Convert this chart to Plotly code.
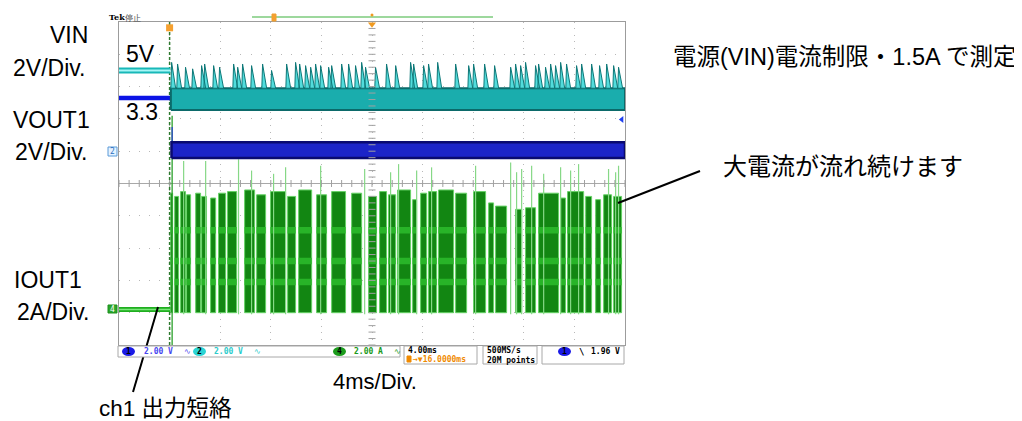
import numpy as np
import plotly.graph_objects as go

# ---------------- data ----------------
# time in ms relative to the short circuit (trigger at t = 0), 4 ms/div
T_START, T_END = -4.0, 36.0
TIME_DIV = 4.0

VIN_BEFORE = 5.0          # V
VOUT_BEFORE = 3.3         # V
IOUT_BEFORE = 0.0         # A

VIN_AFTER_LOW = 2.55      # V, bottom of the ripple band after the short
VIN_AFTER_HIGH = 3.9      # V, top of the ripple band
VIN_SPIKE_T = [0.16, 0.63, 1.26, 1.82, 2.53, 2.77, 3.48, 3.95, 5.06, 5.38, 5.77, 6.48,
               7.35, 8.06, 9.25, 9.96, 10.28, 10.75, 11.15, 11.54, 11.94, 12.57, 12.81,
               13.60, 14.15, 14.70, 15.18, 15.49, 16.28, 17.15, 17.87, 19.05, 19.29,
               20.08, 20.47, 21.19, 22.61, 23.64, 24.03, 24.90, 25.69, 26.96, 27.35,
               27.75, 28.14, 28.93, 29.17, 29.72, 30.12, 30.51, 30.91, 31.38, 32.17,
               32.57, 33.36, 33.99, 34.55, 35.10, 35.49]
VIN_SPIKE_PEAK = [5.5, 5.4, 5.2, 5.1, 5.3, 5.4, 5.3, 5.2, 5.4, 5.2, 5.4, 5.3,
                  5.4, 5.0, 5.4, 5.5, 5.4, 5.3, 5.2, 5.4, 5.3, 5.2, 5.3,
                  5.4, 5.4, 5.3, 5.5, 5.2, 5.2, 5.4, 5.3, 5.5, 5.4,
                  5.3, 5.4, 5.5, 5.4, 5.3, 5.4, 5.4, 5.3, 5.2, 5.4,
                  5.3, 5.5, 5.3, 5.4, 5.2, 5.4, 5.3, 5.5, 5.4, 5.3,
                  5.4, 5.4, 5.3, 5.4, 5.3, 5.2]

VOUT_AFTER_LOW = -0.42    # V
VOUT_AFTER_HIGH = 0.55    # V
VOUT_GLITCH_T = 0.2       # ms
VOUT_GLITCH_PEAK = 1.5    # V

IOUT_BURST_START = [0.08, 0.40, 0.87, 1.34, 2.06, 2.53, 3.24, 3.87, 4.58, 5.93, 6.88, 7.98,
                    9.33, 10.20, 11.62, 12.81, 14.39, 15.73, 16.60, 17.31, 18.02, 19.21,
                    19.84, 20.47, 21.26, 22.61, 24.03, 25.22, 25.77, 27.35, 28.14, 29.17,
                    30.91, 31.46, 32.89, 33.68, 34.31, 35.10]
IOUT_BURST_END = [0.24, 0.71, 1.26, 1.66, 2.45, 2.92, 3.64, 4.43, 5.30, 6.72, 7.59, 9.17,
                  9.96, 11.23, 12.41, 13.91, 15.18, 16.36, 17.15, 17.87, 19.05, 19.53,
                  20.32, 21.11, 22.45, 23.48, 24.98, 25.61, 26.64, 27.83, 28.93, 30.75,
                  31.30, 32.73, 33.36, 34.07, 34.94, 35.73]
IOUT_BURST_TOP = [7.2, 7.0, 7.3, 7.1, 7.2, 7.0, 6.9, 7.2, 7.3, 7.4, 7.1, 7.3,
                  7.0, 7.4, 7.1, 7.3, 7.2, 7.0, 7.3, 7.1, 7.4, 6.8,
                  7.2, 7.3, 7.4, 7.2, 7.3, 6.6, 6.4, 6.2, 6.3, 7.2,
                  6.9, 7.3, 7.0, 6.8, 7.1, 7.0]
IOUT_BURST_BOTTOM = -0.2  # A
IOUT_LEVELS = [1.7, 3.0, 4.9]   # brighter (denser) current levels inside bursts
IOUT_SPIKE_T = [1.11, 2.85, 5.45, 6.48, 8.22, 9.17, 11.94, 15.42, 17.47, 18.10, 19.53,
                20.71, 24.19, 26.96, 27.43, 27.83, 28.62, 29.57, 30.91, 31.70, 32.33,
                34.70, 35.26, 35.49]
IOUT_SPIKE_PEAK = [9.2, 9.2, 9.3, 8.6, 8.4, 8.8, 8.9, 8.7, 8.5, 9.0, 8.6,
                   8.8, 8.9, 9.1, 8.5, 8.7, 8.9, 8.4, 8.8, 8.6, 9.0,
                   8.7, 8.5, 8.9]
IOUT_EDGE_T = 0.2
IOUT_EDGE_MIN, IOUT_EDGE_MAX = -4.3, 12.0

TRIG_LEVEL = 1.96         # V on ch1

# channel settings (scale per div, ground position in divisions)
CH1_SCALE, CH1_POS = 2.0, 1.0    # VOUT1
CH2_SCALE, CH2_POS = 2.0, 1.0    # VIN
CH4_SCALE, CH4_POS = 2.0, -3.9   # IOUT1


def d1(v): return CH1_POS + np.asarray(v, dtype=float) / CH1_SCALE
def d2(v): return CH2_POS + np.asarray(v, dtype=float) / CH2_SCALE
def d4(v): return CH4_POS + np.asarray(v, dtype=float) / CH4_SCALE


# ---------------- layout geometry (pixels of the 1022x421 picture) ----------------
PAGE_MARGIN = 8                      # default body margin of the html page
W, H = 1022 - PAGE_MARGIN, 421 - PAGE_MARGIN
L, R, T, B = 119, 625, 22, 345       # plot area in picture pixels


def PX(x): return (x - L) / (R - L)
def PY(y): return (B - y) / (B - T)


fig = go.Figure()

# ---------- IOUT (green) ----------
bx, by = [], []
for s, e, top in zip(IOUT_BURST_START, IOUT_BURST_END, IOUT_BURST_TOP):
    lo, hi = float(d4(IOUT_BURST_BOTTOM)), float(d4(top))
    bx += [s, s, e, e, s, None]
    by += [lo, hi, hi, lo, lo, None]
fig.add_trace(go.Scatter(x=bx, y=by, mode="lines", fill="toself", fillcolor="#128612",
                         line=dict(color="#66d266", width=1), hoverinfo="skip"))
sx, sy = [], []
for s, e, top in zip(IOUT_BURST_START, IOUT_BURST_END, IOUT_BURST_TOP):
    for lev in IOUT_LEVELS:
        if lev + 0.3 < top:
            lo, hi = float(d4(lev - 0.2)), float(d4(lev + 0.2))
            sx += [s, s, e, e, s, None]
            sy += [lo, hi, hi, lo, lo, None]
fig.add_trace(go.Scatter(x=sx, y=sy, mode="lines", fill="toself", fillcolor="#28b428",
                         line=dict(width=0), hoverinfo="skip"))
spx, spy = [], []
for t, p in zip(IOUT_SPIKE_T, IOUT_SPIKE_PEAK):
    spx += [t, t, None]
    spy += [float(d4(-0.3)), float(d4(p)), None]
fig.add_trace(go.Scatter(x=spx, y=spy, mode="lines", line=dict(color="#86d886", width=1.2),
                         hoverinfo="skip"))
# trigger instant
fig.add_trace(go.Scatter(x=[0, 0], y=[-5, 5], mode="lines",
                         line=dict(color="#2f7a2f", width=1.5, dash="3px,2px"), hoverinfo="skip"))
fig.add_trace(go.Scatter(x=[IOUT_EDGE_T, IOUT_EDGE_T], y=[float(d4(IOUT_EDGE_MIN)), float(d4(IOUT_EDGE_MAX))],
                         mode="lines", line=dict(color="#2aa02a", width=1.3), hoverinfo="skip"))
# before short
fig.add_trace(go.Scatter(x=[T_START, 0.05], y=[float(d4(IOUT_BEFORE))] * 2, mode="lines",
                         line=dict(color="#1fae1f", width=5), hoverinfo="skip"))
fig.add_trace(go.Scatter(x=[T_START, 0.05], y=[float(d4(IOUT_BEFORE))] * 2, mode="lines",
                         line=dict(color="#7be87b", width=1.5), hoverinfo="skip"))

# ---------- VOUT1 (blue) ----------
fig.add_trace(go.Scatter(x=[T_START, 0.1], y=[float(d1(VOUT_BEFORE))] * 2, mode="lines",
                         line=dict(color="#0c14e6", width=4.5), hoverinfo="skip"))
fig.add_trace(go.Scatter(x=[VOUT_GLITCH_T, VOUT_GLITCH_T], y=[float(d1(0)), float(d1(VOUT_GLITCH_PEAK))],
                         mode="lines", line=dict(color="#2a3ad8", width=1.2), hoverinfo="skip"))
vlo, vhi = float(d1(VOUT_AFTER_LOW)), float(d1(VOUT_AFTER_HIGH))
fig.add_trace(go.Scatter(x=[0.15, 0.15, T_END, T_END, 0.15], y=[vlo, vhi, vhi, vlo, vlo],
                         mode="lines", fill="toself", fillcolor="#1c24c8",
                         line=dict(color="#0a0a70", width=2.5), hoverinfo="skip"))

# ---------- VIN (cyan) ----------
fig.add_trace(go.Scatter(x=[T_START, 0.05], y=[float(d2(VIN_BEFORE))] * 2, mode="lines",
                         line=dict(color="#18b8b8", width=6), hoverinfo="skip"))
fig.add_trace(go.Scatter(x=[T_START, 0.05], y=[float(d2(VIN_BEFORE))] * 2, mode="lines",
                         line=dict(color="#a6f6f6", width=2), hoverinfo="skip"))
ilo, ihi = float(d2(VIN_AFTER_LOW)), float(d2(VIN_AFTER_HIGH))
fig.add_trace(go.Scatter(x=[0.1, 0.1, T_END, T_END, 0.1], y=[ilo, ihi, ihi, ilo, ilo],
                         mode="lines", fill="toself", fillcolor="#1aadad",
                         line=dict(color="#0b6a6a", width=2), hoverinfo="skip"))
kx, ky = [], []
for t, p in zip(VIN_SPIKE_T, VIN_SPIKE_PEAK):
    kx += [t - 0.06, t, t + 0.32, t - 0.06, None]
    ky += [ihi, float(d2(p)), ihi, ihi, None]
fig.add_trace(go.Scatter(x=kx, y=ky, mode="lines", fill="toself", fillcolor="#52dcdc",
                         line=dict(color="#0e7878", width=1), hoverinfo="skip"))

# ---------- graticule decorations ----------
mt = np.arange(-5, 5.001, 0.2)
fig.add_trace(go.Scatter(x=[16.0] * len(mt), y=mt, mode="markers",
                         marker=dict(symbol="line-ew", size=5, line=dict(color="#a0a0a0", width=1)),
                         hoverinfo="skip"))
mx = np.arange(T_START, T_END + 0.001, 0.8)
fig.add_trace(go.Scatter(x=mx, y=[0.0] * len(mx), mode="markers",
                         marker=dict(symbol="line-ns", size=5, line=dict(color="#a0a0a0", width=1)),
                         hoverinfo="skip"))
# trigger level marker (right edge)
fig.add_trace(go.Scatter(x=[35.75], y=[float(d1(TRIG_LEVEL))], mode="markers",
                         marker=dict(symbol="triangle-left", size=6, color="#2040f0"),
                         hoverinfo="skip", cliponaxis=False))
# trigger position marker (top)
fig.add_trace(go.Scatter(x=[0.0], y=[4.82], mode="markers",
                         marker=dict(symbol="square", size=7, color="#f5a030"),
                         hoverinfo="skip", cliponaxis=False))
fig.add_trace(go.Scatter(x=[16.0], y=[4.93], mode="markers",
                         marker=dict(symbol="triangle-down", size=7, color="#f09a20"),
                         hoverinfo="skip", cliponaxis=False))

shapes = []
ann = []
FONT = "Liberation Sans, Arial, Noto Sans CJK JP"
JP = "Liberation Sans, Noto Sans CJK JP"
MONO = "DejaVu Sans Mono"


def txt(s, x, y, size, color="black", xanchor="left", family=FONT):
    ann.append(dict(text=s, x=PX(x), y=PY(y), xref="paper", yref="paper", showarrow=False,
                    xanchor=xanchor, yanchor="middle", borderpad=0,
                    font=dict(size=size, color=color, family=family)))


def rect(x0, y0, x1, y1, line="#a8a8a8", fill="white", width=1):
    shapes.append(dict(type="rect", xref="paper", yref="paper", x0=PX(x0), x1=PX(x1),
                       y0=PY(y1), y1=PY(y0), line=dict(color=line, width=width), fillcolor=fill,
                       layer="above"))


def oval(x0, y0, x1, y1, fill):
    shapes.append(dict(type="circle", xref="paper", yref="paper", x0=PX(x0), x1=PX(x1),
                       y0=PY(y1), y1=PY(y0), line=dict(width=0), fillcolor=fill, layer="above"))


def seg(x0, y0, x1, y1, color="black", width=2):
    shapes.append(dict(type="line", xref="paper", yref="paper", x0=PX(x0), x1=PX(x1),
                       y0=PY(y0), y1=PY(y1), line=dict(color=color, width=width), layer="above"))


# left labels
txt("VIN", 49, 35, 23)
txt("2V/Div.", 12, 68, 23)
txt("VOUT1", 12, 120, 23)
txt("2V/Div.", 14, 152, 23)
txt("IOUT1", 13, 280, 23)
txt("2A/Div.", 16, 312, 23)
txt("5V", 125, 54, 23)
txt("3.3", 125, 112, 23)
txt("電源(VIN)電流制限・1.5A で測定", 672, 57, 23.5, family=JP)
txt("大電流が流れ続けます", 722, 166, 24, family=JP)
txt("4ms/Div.", 332, 381, 22)
txt("ch1 出力短絡", 98, 408, 22.5, family=JP)

seg(158, 307, 133, 392)
seg(618, 203, 700, 171)

# ground markers
rect(108, 147, 117, 156, line="#5a9ad8", fill="#e6f3ff")
txt("2", 112.5, 151.5, 8, color="#2a70c0", xanchor="center", family=MONO)
rect(108, 305, 117, 313, line="#1a901a", fill="#2aa62a")
txt("4", 112.5, 309, 8, color="white", xanchor="center", family=MONO)

# top bar
txt("<b>Tek</b>", 108, 17, 8, family="DejaVu Serif")
txt("停止", 124, 17, 8, color="#555555", family="Noto Sans CJK JP")
seg(252, 17, 493, 17, color="#9dd89d", width=2)
rect(272, 14, 276, 21, line="#f0a030", fill="#f5a030")
oval(370.5, 13.5, 373.5, 16.5, "#f09a20")

# status bar
rect(118, 346, 400, 357)
oval(122, 347, 135, 356, "#1a1ae6")
txt("<b>1</b>", 128.5, 351.5, 8, xanchor="center", family=MONO)
txt("<b>2.00 V</b>", 143, 351.5, 8, color="#4646f0", family=MONO)
txt("∿", 183, 351.5, 8, color="#5050f0", family=MONO)
oval(193, 347, 206, 356, "#2ad4d4")
txt("<b>2</b>", 199.5, 351.5, 8, xanchor="center", family=MONO)
txt("<b>2.00 V</b>", 213, 351.5, 8, color="#2ccccc", family=MONO)
txt("∿", 253, 351.5, 8, color="#2ccccc", family=MONO)
oval(333, 347, 346, 356, "#1c9c1c")
txt("<b>4</b>", 339.5, 351.5, 8, xanchor="center", family=MONO)
txt("<b>2.00 A</b>", 353, 351.5, 8, color="#1a9a1a", family=MONO)
txt("∿", 393, 351.5, 8, color="#1a9a1a", family=MONO)

rect(404, 346, 477, 364)
txt("<b>4.00ms</b>", 407, 350.5, 8, family=MONO)
rect(407, 356, 411, 362, line="#f08a00", fill="#f08a00")
txt("<b>→▼16.0000ms</b>", 412, 359.5, 8, color="#f08a00", family=MONO)
rect(483, 346, 537, 364)
txt("<b>500MS/s</b>", 486, 350.5, 8, family=MONO)
txt("<b>20M points</b>", 486, 359.5, 8, family=MONO)
rect(542, 346, 624, 364)
oval(558, 347, 571, 356, "#1a1ae6")
txt("<b>1</b>", 564.5, 351.5, 8, xanchor="center", family=MONO)
txt("<b>\\</b>", 578, 351.5, 9, family=MONO)
txt("<b>1.96 V</b>", 621, 351.5, 8, xanchor="right", family=MONO)

fig.update_layout(
    width=W, height=H, autosize=False,
    margin=dict(l=L - PAGE_MARGIN, r=1022 - R, t=T - PAGE_MARGIN, b=421 - B, pad=0),
    paper_bgcolor="white", plot_bgcolor="white",
    showlegend=False,
    shapes=shapes, annotations=ann,
    xaxis=dict(range=[T_START, T_END], dtick=TIME_DIV, tick0=T_START, showticklabels=False,
               ticks="", showgrid=True, gridcolor="#b8b8b8", griddash="1px,5.46px", gridwidth=1,
               zeroline=False, showline=True, mirror=True, linecolor="#9c9c9c", linewidth=1,
               fixedrange=True),
    yaxis=dict(range=[-5, 5], dtick=1, showticklabels=False, ticks="", showgrid=True,
               gridcolor="#b8b8b8", griddash="1px,9.12px", gridwidth=1,
               zeroline=True, zerolinecolor="#a8a8a8", zerolinewidth=1,
               showline=True, mirror=True, linecolor="#9c9c9c", linewidth=1, fixedrange=True),
)

fig.write_html("out.html")
